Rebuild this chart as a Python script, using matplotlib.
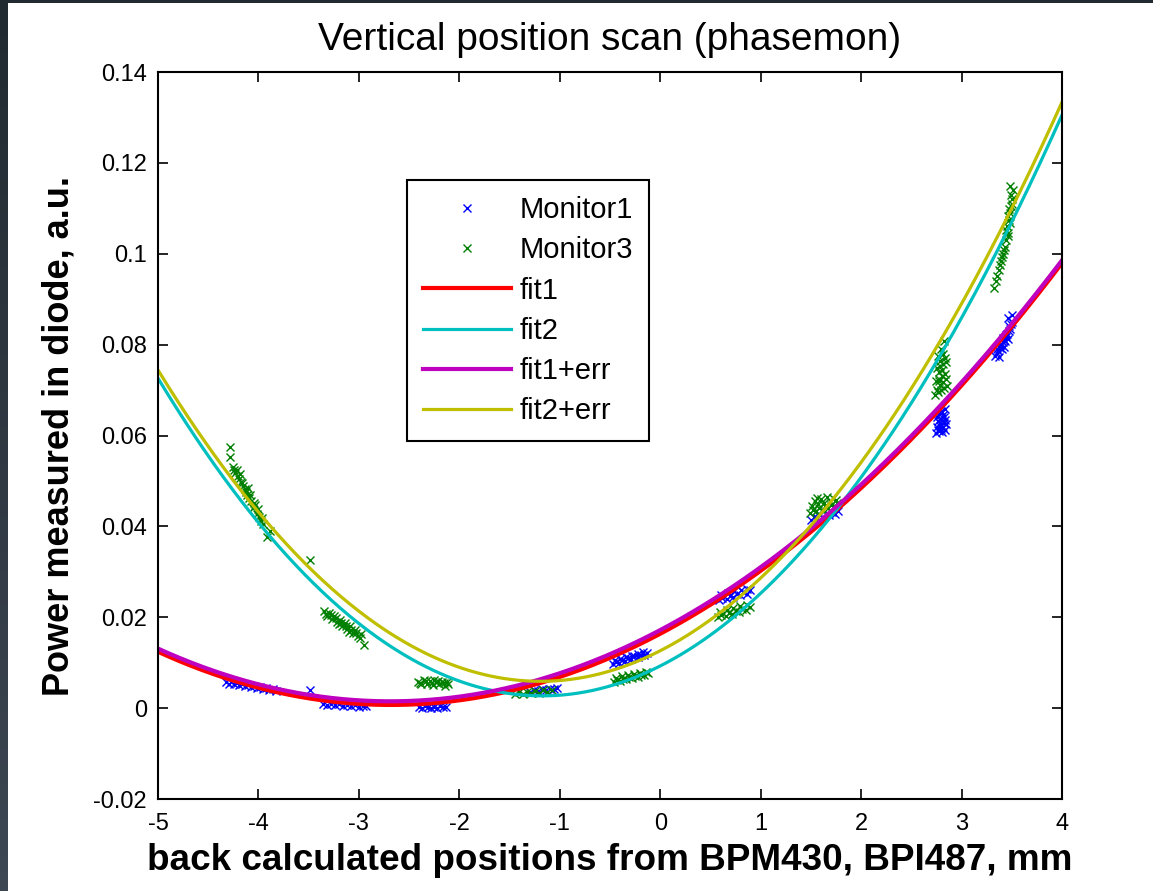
import numpy as np
import matplotlib
matplotlib.use("Agg")
import matplotlib.pyplot as plt

plt.rcParams['font.family'] = ['Liberation Sans', 'DejaVu Sans']

# ---------------- data ----------------
monitor1_x = [-4.32, -4.29, -4.27, -4.24, -4.21, -4.19, -4.16, -4.13, -4.10, -4.07, -4.04, -4.01, -3.98, -3.95, -3.92, -3.89, -3.86, -3.83,
              -3.49,
              -3.36, -3.32, -3.28, -3.24, -3.20, -3.16, -3.12, -3.08, -3.04, -3.00, -2.96, -2.93,
              -2.40, -2.37, -2.34, -2.31, -2.28, -2.25, -2.22, -2.19, -2.16, -2.13,
              -1.30, -1.26, -1.22, -1.18, -1.14, -1.10, -1.06, -1.03,
              -0.47, -0.44, -0.41, -0.38, -0.35, -0.32, -0.29, -0.26, -0.22, -0.19, -0.16, -0.13,
              -0.45, -0.40, -0.34, -0.28, -0.22, -0.17,
              0.59, 0.62, 0.66, 0.69, 0.72, 0.76, 0.79, 0.82, 0.86, 0.89,
              0.61, 0.67, 0.73, 0.80, 0.86,
              1.50, 1.53, 1.56, 1.59, 1.62, 1.65, 1.68, 1.71, 1.74, 1.77,
              2.75, 2.78, 2.81, 2.84, 2.76, 2.79, 2.82, 2.85, 2.77, 2.80, 2.83, 2.78, 2.81, 2.84,
              2.77, 2.80, 2.83, 2.79, 2.82, 2.80, 2.76, 2.84,
              3.33, 3.35, 3.36, 3.38, 3.39, 3.41, 3.42, 3.44, 3.45, 3.47, 3.48, 3.49, 3.37, 3.40, 3.43, 3.46, 3.50,
              3.38, 3.41, 3.44, 3.47, 3.50, 3.35, 3.42, 3.46]
monitor1_y = [0.0057, 0.0054, 0.0058, 0.0052, 0.0055, 0.0050, 0.0053, 0.0048, 0.0051, 0.0046, 0.0049, 0.0044, 0.0047, 0.0042, 0.0045, 0.0040, 0.0043, 0.0038,
              0.0040,
              0.0010, 0.0007, 0.0009, 0.0006, 0.0008, 0.0005, 0.0007, 0.0004, 0.0006, 0.0003, 0.0005, 0.0004,
              0.0003, 0.0001, 0.0004, 0.0002, 0.0000, 0.0003, 0.0001, 0.0004, 0.0002, 0.0003,
              0.0036, 0.0039, 0.0037, 0.0041, 0.0039, 0.0043, 0.0041, 0.0044,
              0.0098, 0.0102, 0.0100, 0.0106, 0.0104, 0.0110, 0.0108, 0.0114, 0.0112, 0.0118, 0.0116, 0.0122,
              0.0105, 0.0108, 0.0112, 0.0115, 0.0120, 0.0124,
              0.0238, 0.0243, 0.0240, 0.0247, 0.0244, 0.0251, 0.0248, 0.0255, 0.0252, 0.0259,
              0.0250, 0.0254, 0.0257, 0.0260, 0.0262,
              0.0415, 0.0420, 0.0418, 0.0424, 0.0421, 0.0428, 0.0425, 0.0431, 0.0428, 0.0434,
              0.0605, 0.0610, 0.0607, 0.0612, 0.0618, 0.0622, 0.0619, 0.0625, 0.0632, 0.0636, 0.0640, 0.0647, 0.0652, 0.0658,
              0.0612, 0.0615, 0.0628, 0.0628, 0.0645, 0.0655, 0.0640, 0.0634,
              0.0775, 0.0781, 0.0787, 0.0793, 0.0799, 0.0805, 0.0811, 0.0817, 0.0823, 0.0829, 0.0835, 0.0845, 0.0772, 0.0790, 0.0808, 0.0858, 0.0866,
              0.0800, 0.0815, 0.0822, 0.0840, 0.0850, 0.0790, 0.0795, 0.0812]

monitor3_x = [-4.28, -4.28, -4.25, -4.23, -4.21, -4.19, -4.17, -4.15, -4.13, -4.11, -4.09, -4.07, -4.05, -4.03, -4.01, -3.99, -3.97, -3.95, -3.91, -3.88,
              -4.24, -4.20, -4.16, -4.12, -4.08, -4.04, -4.00, -3.96, -4.18, -4.10,
              -3.49,
              -3.35, -3.32, -3.30, -3.27, -3.25, -3.22, -3.19, -3.17, -3.14, -3.12, -3.09, -3.06, -3.04, -3.01, -2.98, -2.95,
              -3.33, -3.28, -3.23, -3.18, -3.13, -3.08, -3.03, -2.99, -3.20, -3.10,
              -2.41, -2.38, -2.35, -2.32, -2.29, -2.26, -2.23, -2.20, -2.17, -2.14, -2.11, -2.25,
              -2.39, -2.33, -2.27, -2.21, -2.15, -2.12,
              -1.45, -1.41, -1.37, -1.33, -1.29, -1.25, -1.21, -1.17, -1.13, -1.08,
              -0.46, -0.43, -0.40, -0.37, -0.34, -0.31, -0.28, -0.25, -0.22, -0.19, -0.16, -0.12,
              -0.44, -0.38, -0.32, -0.26, -0.20, -0.14,
              0.58, 0.61, 0.65, 0.68, 0.71, 0.75, 0.78, 0.81, 0.85, 0.89,
              0.60, 0.66, 0.72, 0.79, 0.86,
              1.49, 1.52, 1.55, 1.58, 1.61, 1.64, 1.67, 1.70, 1.73, 1.76, 1.54, 1.60, 1.66, 1.72,
              1.51, 1.57, 1.63, 1.69, 1.75, 1.56,
              2.74, 2.77, 2.80, 2.83, 2.86, 2.75, 2.78, 2.81, 2.84, 2.76, 2.79, 2.82, 2.85, 2.77, 2.80, 2.83,
              2.76, 2.79, 2.82, 2.85, 2.78, 2.81, 2.84, 2.79, 2.82, 2.78,
              3.32, 3.35, 3.37, 3.39, 3.41, 3.43, 3.44, 3.46, 3.45, 3.47, 3.48, 3.49, 3.50, 3.47, 3.51, 3.48,
              3.34, 3.38, 3.40, 3.42, 3.46, 3.44, 3.48, 3.46, 3.50, 3.49]
monitor3_y = [0.0575, 0.0553, 0.0530, 0.0518, 0.0523, 0.0505, 0.0498, 0.0488, 0.0482, 0.0470, 0.0462, 0.0455, 0.0440, 0.0446, 0.0428, 0.0420, 0.0412, 0.0405, 0.0376, 0.0390,
              0.0525, 0.0510, 0.0495, 0.0475, 0.0470, 0.0452, 0.0438, 0.0418, 0.0515, 0.0485,
              0.0325,
              0.0213, 0.0203, 0.0210, 0.0196, 0.0203, 0.0190, 0.0195, 0.0181, 0.0188, 0.0174, 0.0180, 0.0166, 0.0172, 0.0159, 0.0163, 0.0140,
              0.0208, 0.0205, 0.0198, 0.0188, 0.0180, 0.0172, 0.0165, 0.0155, 0.0185, 0.0168,
              0.0058, 0.0052, 0.0061, 0.0054, 0.0059, 0.0050, 0.0057, 0.0052, 0.0058, 0.0049, 0.0054, 0.0062,
              0.0056, 0.0059, 0.0055, 0.0060, 0.0055, 0.0058,
              0.0032, 0.0035, 0.0031, 0.0036, 0.0033, 0.0038, 0.0034, 0.0039, 0.0036, 0.0040,
              0.0058, 0.0062, 0.0060, 0.0065, 0.0063, 0.0068, 0.0066, 0.0071, 0.0069, 0.0074, 0.0072, 0.0078,
              0.0066, 0.0070, 0.0072, 0.0075, 0.0078, 0.0080,
              0.0200, 0.0206, 0.0203, 0.0210, 0.0207, 0.0214, 0.0211, 0.0218, 0.0215, 0.0222,
              0.0212, 0.0216, 0.0220, 0.0224, 0.0228,
              0.0430, 0.0436, 0.0433, 0.0440, 0.0437, 0.0444, 0.0441, 0.0448, 0.0445, 0.0452, 0.0455, 0.0460, 0.0465, 0.0462,
              0.0445, 0.0450, 0.0452, 0.0456, 0.0458, 0.0462,
              0.0690, 0.0695, 0.0700, 0.0705, 0.0710, 0.0720, 0.0725, 0.0730, 0.0735, 0.0748, 0.0752, 0.0757, 0.0762, 0.0775, 0.0790, 0.0808,
              0.0700, 0.0712, 0.0718, 0.0725, 0.0740, 0.0745, 0.0770, 0.0765, 0.0780, 0.0720,
              0.0925, 0.0950, 0.0965, 0.0985, 0.1000, 0.1015, 0.1030, 0.1045, 0.1060, 0.1075, 0.1090, 0.1105, 0.1120, 0.1098, 0.1140, 0.1150,
              0.0940, 0.0975, 0.0992, 0.1008, 0.1040, 0.1052, 0.1068, 0.1082, 0.1110, 0.1130]

# parabola fits: y = a * (x - x0)^2 + c
fit_names = ['fit1', 'fit2', 'fit1+err', 'fit2+err']
fit_a = [0.002178, 0.004775, 0.002170, 0.004727]
fit_x0 = [-2.682, -1.174, -2.688, -1.193]
fit_c = [0.0007, 0.0027, 0.0015, 0.0059]

x_ticks = [-5, -4, -3, -2, -1, 0, 1, 2, 3, 4]
y_ticks = [-0.02, 0, 0.02, 0.04, 0.06, 0.08, 0.1, 0.12, 0.14]
y_tick_labels = ['-0.02', '0', '0.02', '0.04', '0.06', '0.08', '0.1', '0.12', '0.14']

# ---------------- style ----------------
fit_colors = ['#FF0000', '#00BFBF', '#BF00BF', '#BFBF00']
fit_widths = [3.0, 2.3, 3.0, 2.3]

fig = plt.figure(figsize=(11.53, 8.91), dpi=100)
fig.patch.set_facecolor('white')

# dark window border (screenshot frame)
bax = fig.add_axes([0, 0, 8 / 1153, 1])
bax.imshow(np.linspace(0, 1, 50).reshape(-1, 1), aspect='auto',
           cmap=matplotlib.colors.LinearSegmentedColormap.from_list('b', ['#222a31', '#3d4753']),
           extent=[0, 1, 0, 1], origin='upper')
bax.axis('off')
tax = fig.add_axes([0, 1 - 3 / 891, 1, 3 / 891])
tax.axis('off')
tax.add_patch(plt.Rectangle((0, 0), 1, 1, color='#222a31', transform=tax.transAxes))

ax = fig.add_axes([158 / 1153, 92 / 891, 904 / 1153, 727 / 891])

ax.plot(monitor1_x, monitor1_y, 'x', color='#0000FF', markersize=6, markeredgewidth=1.0,
        linestyle='none', label='Monitor1')
ax.plot(monitor3_x, monitor3_y, 'x', color='#008000', markersize=6, markeredgewidth=1.0,
        linestyle='none', label='Monitor3')

xs = np.linspace(-5, 4, 500)
for name, a, x0, c, col, lw in zip(fit_names, fit_a, fit_x0, fit_c, fit_colors, fit_widths):
    ax.plot(xs, a * (xs - x0) ** 2 + c, color=col, linewidth=lw, label=name)

ax.set_xlim(-5, 4)
ax.set_ylim(-0.02, 0.14)
ax.set_xticks(x_ticks)
ax.set_xticklabels([str(t) for t in x_ticks])
ax.set_yticks(y_ticks)
ax.set_yticklabels(y_tick_labels)
ax.tick_params(direction='in', length=7, width=1.2, top=True, right=True,
               labelsize=17, colors='black')
ax.tick_params(axis='x', pad=10)
ax.tick_params(axis='y', pad=8)
for sp in ax.spines.values():
    sp.set_linewidth(1.5)
    sp.set_color('black')

ax.set_title('Vertical position scan (phasemon)', fontsize=28, pad=16)
ax.set_xlabel('back calculated positions from BPM430, BPI487, mm', fontsize=26.6,
              fontweight='bold', labelpad=6)
ax.set_ylabel('Power measured in diode, a.u.', fontsize=26, fontweight='bold', labelpad=12)

leg = ax.legend(loc='upper left', bbox_to_anchor=(249 / 904, 619 / 727), borderaxespad=0,
                fontsize=21, handlelength=3.0, handletextpad=0.3, labelspacing=0.42,
                borderpad=0.55, fancybox=False, framealpha=1, edgecolor='black',
                numpoints=1)
leg.get_frame().set_linewidth(1.5)

fig.savefig('out.png', dpi=100)
